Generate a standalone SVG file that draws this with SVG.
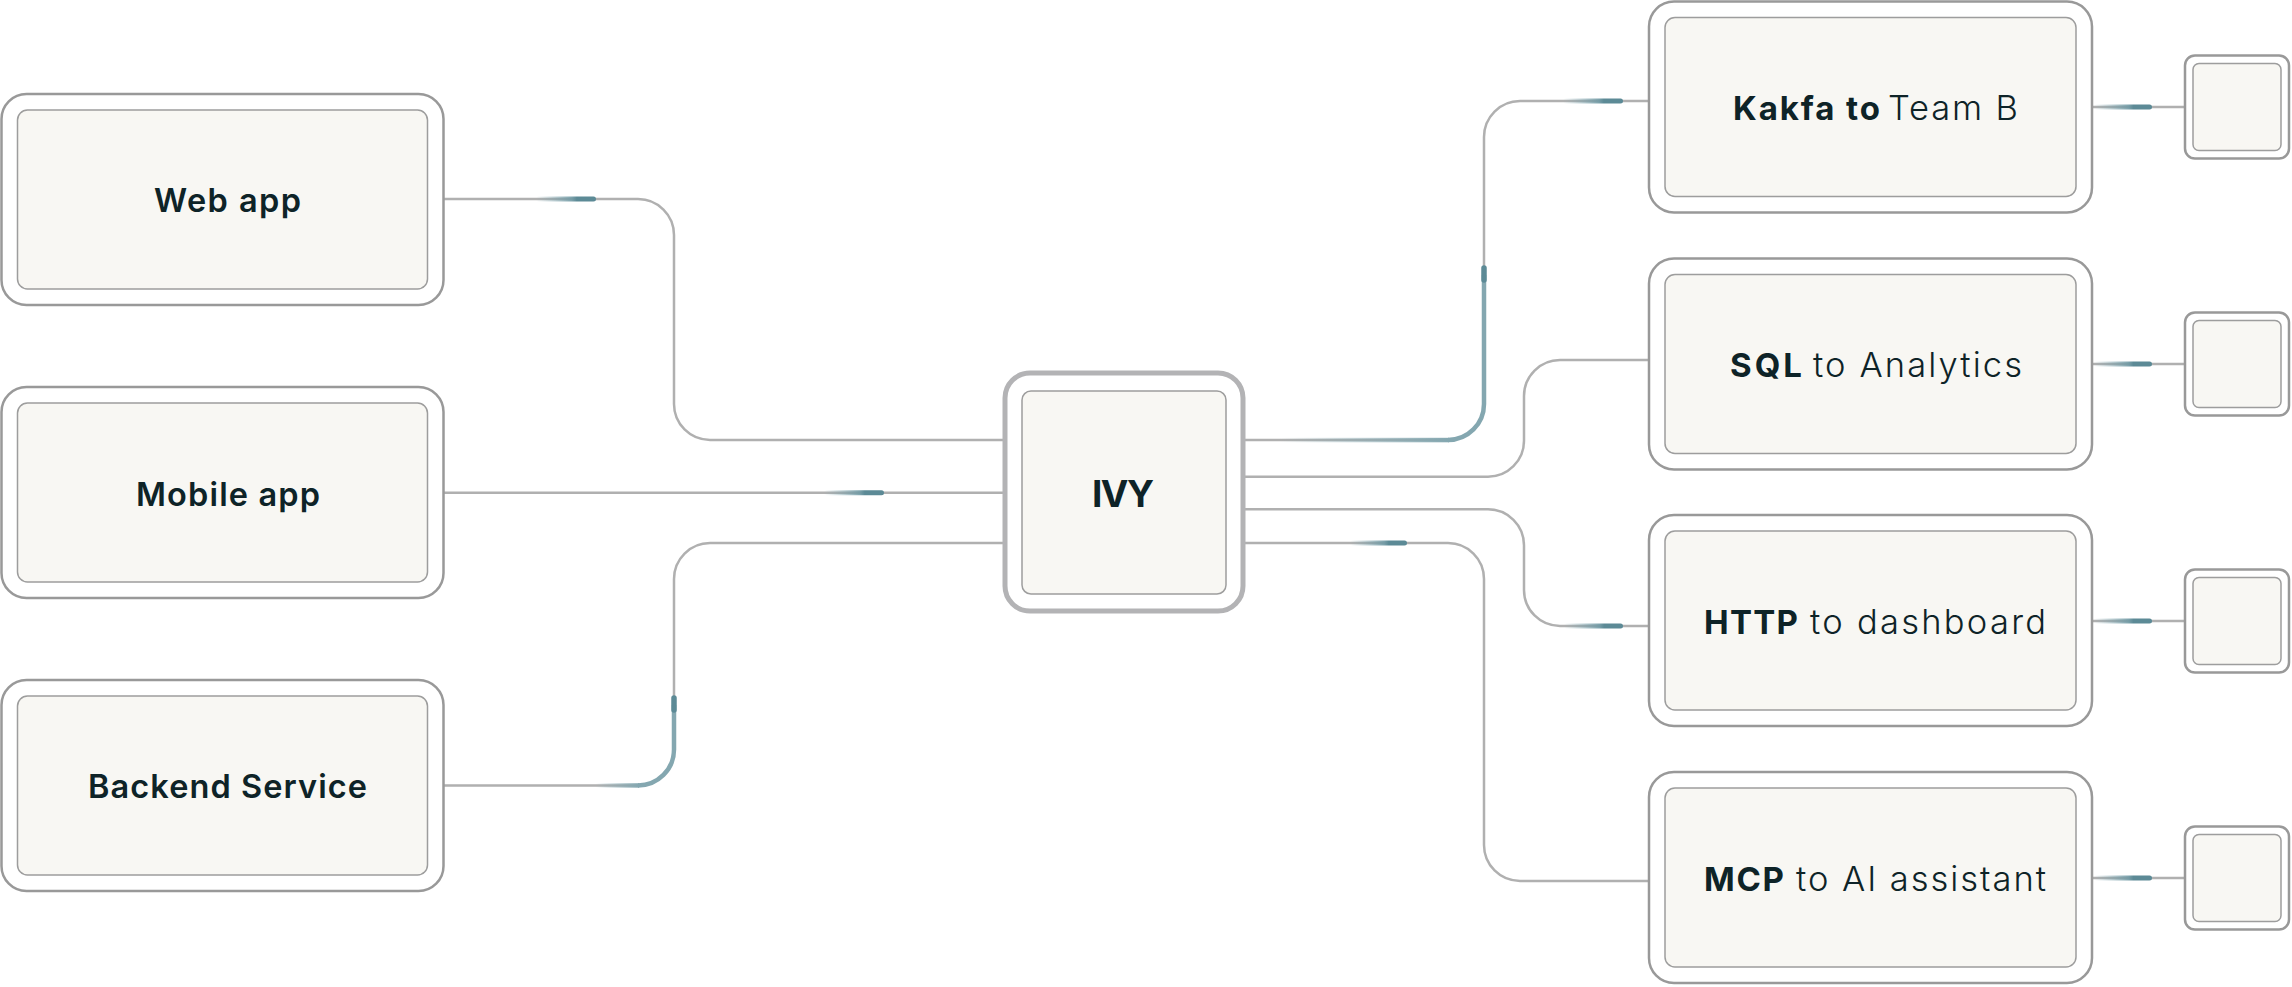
<svg xmlns="http://www.w3.org/2000/svg" width="2292" height="987" viewBox="0 0 2292 987">
  <style>
    .outer { fill: #ffffff; stroke: #999999; stroke-width: 2.5; }
    .inner { fill: #f8f7f3; stroke: #9d9d9d; stroke-width: 1.5; }
    .ivyouter { fill: #ffffff; stroke: #b3b3b5; stroke-width: 5; }
    .conn { fill: none; stroke: #b0b0b0; stroke-width: 2.5; }
    .lbl { font-family: Inter, "Liberation Sans", sans-serif; fill: #0e2327; font-size: 32.5px; font-weight: 600; }
    .rb { font-family: Inter, "Liberation Sans", sans-serif; fill: #0e2327; font-size: 33px; font-weight: 700; }
    .rl { font-family: Inter, "Liberation Sans", sans-serif; fill: #0e2327; font-size: 34.5px; font-weight: 300; }
    .ivy { font-family: Inter, "Liberation Sans", sans-serif; fill: #0e2327; font-size: 37px; font-weight: 700; }
    .trail { fill: none; stroke: #84a7b0; stroke-width: 4.5; }
    .head { fill: none; stroke: #5c8a96; stroke-width: 5.5; stroke-linecap: round; }
  </style>
  <defs>
    <linearGradient id="streakR" x1="0" y1="0" x2="1" y2="0">
      <stop offset="0" stop-color="#84a7b0" stop-opacity="0"/>
      <stop offset="0.6" stop-color="#6f99a4" stop-opacity="0.9"/>
      <stop offset="0.68" stop-color="#5c8a96"/>
      <stop offset="1" stop-color="#5c8a96"/>
    </linearGradient>
    <linearGradient id="fadeR" x1="0" y1="0" x2="1" y2="0">
      <stop offset="0" stop-color="#84a7b0" stop-opacity="0"/>
      <stop offset="1" stop-color="#84a7b0"/>
    </linearGradient>
  </defs>

  <g id="connectors">
    <path class="conn" d="M 444 199 H 638 A 36 36 0 0 1 674 235 V 404 A 36 36 0 0 0 710 440 H 1005"/>
    <path class="conn" d="M 444 492.7 H 1005"/>
    <path class="conn" d="M 444 785.5 H 638 A 36 36 0 0 0 674 749.5 V 579 A 36 36 0 0 1 710 543 H 1005"/>
    <path class="conn" d="M 1243 440 H 1448 A 36 36 0 0 0 1484 404 V 137 A 36 36 0 0 1 1520 101 H 1649"/>
    <path class="conn" d="M 1243 476.7 H 1488 A 36 36 0 0 0 1524 440.7 V 396 A 36 36 0 0 1 1560 360 H 1649"/>
    <path class="conn" d="M 1243 509.3 H 1488 A 36 36 0 0 1 1524 545.3 V 590 A 36 36 0 0 0 1560 626 H 1649"/>
    <path class="conn" d="M 1243 543 H 1448 A 36 36 0 0 1 1484 579 V 845 A 36 36 0 0 0 1520 881 H 1649"/>
    <path class="conn" d="M 2092 107 H 2185"/>
    <path class="conn" d="M 2092 364 H 2185"/>
    <path class="conn" d="M 2092 621 H 2185"/>
    <path class="conn" d="M 2092 878 H 2185"/>

    <rect x="536" y="196.5" width="60" height="5" rx="2.5" fill="url(#streakR)"/>
    <rect x="824" y="490.2" width="60" height="5" rx="2.5" fill="url(#streakR)"/>
    <rect x="1563" y="98.5" width="60" height="5" rx="2.5" fill="url(#streakR)"/>
    <rect x="1350" y="540.5" width="57" height="5" rx="2.5" fill="url(#streakR)"/>
    <rect x="1564" y="623.5" width="59" height="5" rx="2.5" fill="url(#streakR)"/>
    <rect x="2094" y="104.5" width="58" height="5" rx="2.5" fill="url(#streakR)"/>
    <rect x="2094" y="361.5" width="58" height="5" rx="2.5" fill="url(#streakR)"/>
    <rect x="2094" y="618.5" width="58" height="5" rx="2.5" fill="url(#streakR)"/>
    <rect x="2094" y="875.5" width="58" height="5" rx="2.5" fill="url(#streakR)"/>

    <rect x="596" y="783.2" width="43" height="4.5" fill="url(#fadeR)"/>
    <path class="trail" d="M 638 785.5 A 36 36 0 0 0 674 749.5 V 705"/>
    <path class="head" d="M 674 710 V 698"/>

    <rect x="1280" y="437.8" width="169" height="4.5" fill="url(#fadeR)"/>
    <path class="trail" d="M 1448 440 A 36 36 0 0 0 1484 404 V 275"/>
    <path class="head" d="M 1484 280 V 268"/>
  </g>

  <g id="web-app">
    <rect class="outer" x="1.5" y="94" width="442" height="211" rx="25"/>
    <rect class="inner" x="17.5" y="110" width="410" height="179" rx="10"/>
    <text class="lbl" x="154" y="212" textLength="147" lengthAdjust="spacing">Web app</text>
  </g>
  <g id="mobile-app">
    <rect class="outer" x="1.5" y="387" width="442" height="211" rx="25"/>
    <rect class="inner" x="17.5" y="403" width="410" height="179" rx="10"/>
    <text class="lbl" x="136" y="506" textLength="184" lengthAdjust="spacing">Mobile app</text>
  </g>
  <g id="backend-service">
    <rect class="outer" x="1.5" y="680" width="442" height="211" rx="25"/>
    <rect class="inner" x="17.5" y="696" width="410" height="179" rx="10"/>
    <text class="lbl" x="88" y="798" textLength="279" lengthAdjust="spacing">Backend Service</text>
  </g>

  <g id="ivy">
    <rect class="ivyouter" x="1005" y="373" width="238" height="238" rx="25"/>
    <rect class="inner" x="1022" y="391" width="204" height="203" rx="9"/>
    <text class="ivy" x="1092" y="507" textLength="62" lengthAdjust="spacing">IVY</text>
  </g>

  <g id="kafka-team-b">
    <rect class="outer" x="1649" y="1.5" width="443" height="211" rx="25"/>
    <rect class="inner" x="1665" y="17.5" width="411" height="179" rx="10"/>
    <text class="rb" x="1733" y="120" textLength="147" lengthAdjust="spacing">Kakfa to</text>
    <text class="rl" x="1888" y="120" textLength="130" lengthAdjust="spacing">Team B</text>
  </g>
  <g id="sql-analytics">
    <rect class="outer" x="1649" y="258.5" width="443" height="211" rx="25"/>
    <rect class="inner" x="1665" y="274.5" width="411" height="179" rx="10"/>
    <text class="rb" x="1730" y="377" textLength="72" lengthAdjust="spacing">SQL</text>
    <text class="rl" x="1813" y="377" textLength="209" lengthAdjust="spacing">to Analytics</text>
  </g>
  <g id="http-dashboard">
    <rect class="outer" x="1649" y="515" width="443" height="211" rx="25"/>
    <rect class="inner" x="1665" y="531" width="411" height="179" rx="10"/>
    <text class="rb" x="1704" y="633.5" textLength="94" lengthAdjust="spacing">HTTP</text>
    <text class="rl" x="1810" y="633.5" textLength="236" lengthAdjust="spacing">to dashboard</text>
  </g>
  <g id="mcp-ai-assistant">
    <rect class="outer" x="1649" y="772" width="443" height="211" rx="25"/>
    <rect class="inner" x="1665" y="788" width="411" height="179" rx="10"/>
    <text class="rb" x="1704" y="890.5" textLength="80" lengthAdjust="spacing">MCP</text>
    <text class="rl" x="1796" y="890.5" textLength="250" lengthAdjust="spacing">to AI assistant</text>
  </g>

  <g id="sink-1">
    <rect class="outer" x="2185" y="55.5" width="104" height="103" rx="10"/>
    <rect class="inner" x="2193" y="63.5" width="88" height="87" rx="6"/>
  </g>
  <g id="sink-2">
    <rect class="outer" x="2185" y="312.5" width="104" height="103" rx="10"/>
    <rect class="inner" x="2193" y="320.5" width="88" height="87" rx="6"/>
  </g>
  <g id="sink-3">
    <rect class="outer" x="2185" y="569.5" width="104" height="103" rx="10"/>
    <rect class="inner" x="2193" y="577.5" width="88" height="87" rx="6"/>
  </g>
  <g id="sink-4">
    <rect class="outer" x="2185" y="826.5" width="104" height="103" rx="10"/>
    <rect class="inner" x="2193" y="834.5" width="88" height="87" rx="6"/>
  </g>
</svg>
